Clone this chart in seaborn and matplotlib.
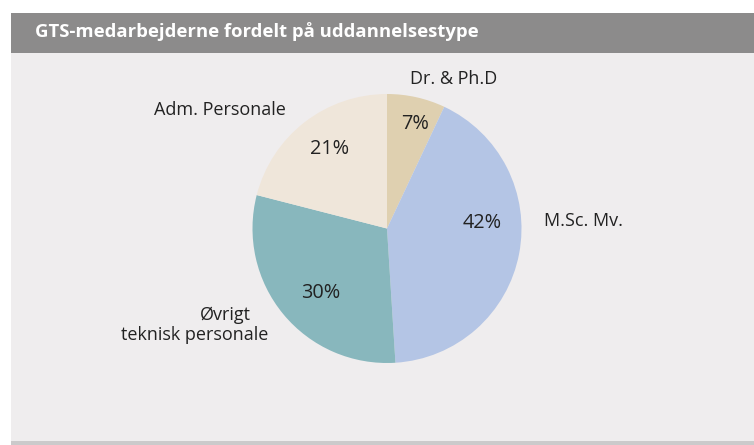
import matplotlib
matplotlib.use("Agg")
import matplotlib.pyplot as plt
import seaborn as sns
from matplotlib.patches import Rectangle

sns.set_theme(style="white")
plt.rcParams['font.family'] = ['Open Sans', 'DejaVu Sans']

title = "GTS-medarbejderne fordelt på uddannelsestype"
categories = ["Dr. & Ph.D", "M.Sc. Mv.", "Øvrigt\nteknisk personale", "Adm. Personale"]
values = [7, 42, 30, 21]
colors = ["#dfd0b0", "#b4c5e5", "#88b7bd", "#efe6da"]

W, H = 754, 445
fig = plt.figure(figsize=(W / 100, H / 100), dpi=100)
fig.patch.set_facecolor("white")

def fx(x):
    return x / W

def fy(y):
    return 1 - y / H

# background panel, header, bottom strip
for (x0, y0, w, h, c) in [(11, 441, 743, 388, "#efedee"), (11, 53, 743, 40, "#8c8b8b"),
                          (11, 445, 743, 4, "#cbcacb")]:
    fig.add_artist(Rectangle((fx(x0), fy(y0)), w / W, h / H, transform=fig.transFigure,
                             facecolor=c, edgecolor="none", zorder=-5))
fig.text(fx(35), fy(32), title, color="white", fontsize=13.3, fontweight="bold",
         va="center", ha="left")

# pie axes: center (387, 228.5), radius 134.5
cx, cy, r = 387, 228.5, 134.5
ax = fig.add_axes([fx(cx - r), fy(cy + r), 2 * r / W, 2 * r / H], zorder=2)
ax.set_facecolor("none")
ax.patch.set_alpha(0)
wedges, texts, autotexts = ax.pie(values, colors=colors, startangle=90, counterclock=False,
                                  autopct=lambda p: f"{p:.0f}%",
                                  wedgeprops=dict(linewidth=0), radius=1)
ax.set_xlim(-1, 1)
ax.set_ylim(-1, 1)
ax.set_aspect("equal")

def to_data(px, py):
    return ((px - cx) / r, (cy - py) / r)

pct_pos = [(415, 124), (482, 223), (321, 293), (330, 149)]
for t, (px, py) in zip(autotexts, pct_pos):
    t.set_position(to_data(px, py))
    t.set_fontsize(14.3)
    t.set_color("#222222")
    t.set_ha("center")
    t.set_va("center")

label_pos = [(454, 79), (583, 221.5), (None, None), (219.5, 110)]
for cat, (px, py) in zip(categories, label_pos):
    if px is None:
        continue
    ax.text(*to_data(px, py), cat, fontsize=13, color="#222222", ha="center", va="center",
            clip_on=False)
l1, l2 = categories[2].split("\n")
ax.text(*to_data(225.5, 315), l1, fontsize=13, color="#222222", ha="center", va="center", clip_on=False)
ax.text(*to_data(195, 335), l2, fontsize=13, color="#222222", ha="center", va="center", clip_on=False)

fig.savefig("out.png", dpi=100)
